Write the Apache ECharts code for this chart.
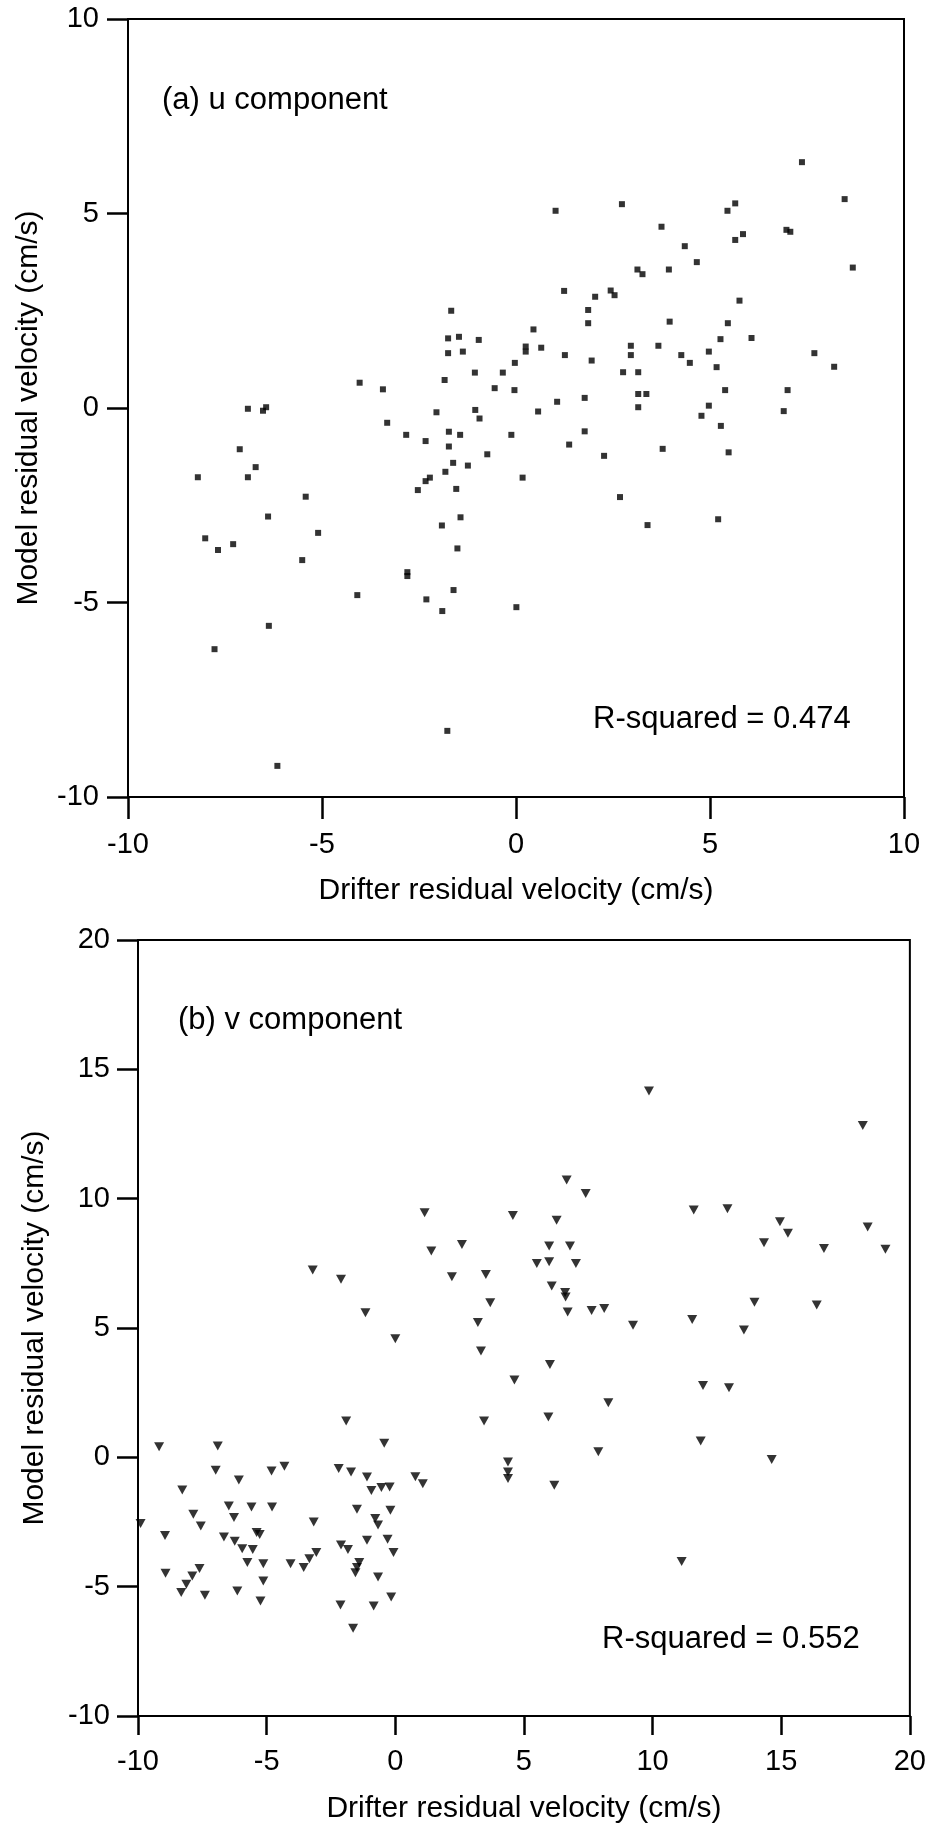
<!DOCTYPE html>
<html>
<head>
<meta charset="utf-8">
<script src="https://cdn.jsdelivr.net/npm/echarts@6/dist/echarts.min.js"></script>
<style>
  html, body { margin: 0; padding: 0; background: #fff; }
  #chart { width: 929px; height: 1831px; }
</style>
</head>
<body>
<div id="chart"></div>
<script>
// (a) u component: drifter vs model residual velocity (cm/s)
const uX = [-8.20, -8.01, -7.68, -7.77, -7.29, -7.12, -6.91, -6.91, -6.71, -6.52, -6.44, -6.39, -6.37, -6.15,
  -5.51, -5.42, -5.10, -4.09, -4.03, -3.43, -3.32, -2.83, -2.80, -2.80, -2.53, -2.33, -2.22, -2.33, -2.31,
  -2.05, -1.91, -1.90, -1.84, -1.82, -1.77, -1.75, -1.75, -1.73, -1.73, -1.67, -1.62, -1.61, -1.54, -1.51,
  -1.47, -1.44, -1.43, -1.37, -1.24, -1.06, -1.05, -0.96, -0.94, -0.74, -0.55, -0.34, -0.12, -0.03, -0.04,
  0.01, 0.17, 0.25, 0.25, 0.45, 0.57, 0.65, 1.02, 1.06, 1.24, 1.26, 1.37, 1.77, 1.77, 1.86, 1.86, 1.95,
  2.04, 2.27, 2.44, 2.54, 2.68, 2.73, 2.76, 2.96, 2.96, 3.13, 3.26, 3.15, 3.15, 3.36, 3.15, 3.39, 3.67,
  3.75, 3.78, 3.94, 3.96, 4.26, 4.35, 4.48, 4.66, 4.78, 4.97, 4.97, 5.17, 5.21, 5.27, 5.28, 5.39, 5.45,
  5.46, 5.48, 5.65, 5.65, 5.76, 5.85, 6.07, 6.90, 6.97, 7.00, 7.07, 7.37, 7.69, 8.20, 8.47, 8.68];
const uY = [-1.78, -3.35, -3.65, -6.20, -3.50, -1.06, -0.02, -1.78, -1.52, -0.07, 0.02, -2.79, -5.60, -9.20,
  -3.91, -2.28, -3.21, -4.81, 0.65, 0.48, -0.38, -0.69, -4.22, -4.32, -2.11, -1.88, -1.79, -0.85, -4.92,
  -0.11, -3.02, -5.22, 0.72, -1.64, -8.30, 1.79, 1.41, -0.61, -0.99, 2.50, -1.41, -4.68, -2.08, -3.61,
  1.83, -0.69, -2.81, 1.45, -1.48, 0.91, -0.05, 1.75, -0.27, -1.19, 0.51, 0.91, -0.69, 1.16, 0.46,
  -5.12, -1.79, 1.58, 1.45, 2.02, -0.09, 1.55, 5.07, 0.16, 3.01, 1.36, -0.94, 0.26, -0.60, 2.52, 2.18, 1.22,
  2.86, -1.23, 3.02, 2.90, -2.29, 5.24, 0.92, 1.60, 1.36, 3.56, 3.44, 0.92, 0.36, 0.36, 0.02, -3.01, 1.60,
  4.66, -1.05, 3.56, 2.22, 1.36, 4.16, 1.16, 3.75, -0.20, 0.06, 1.45, 1.05, -2.86, 1.77, -0.46, 0.46, 5.07,
  2.18, -1.14, 5.26, 4.32, 2.76, 4.47, 1.80, -0.08, 4.58, 0.46, 4.53, 6.32, 1.41, 1.06, 5.37, 3.61];

// (b) v component
const vX = [-9.90, -9.18, -8.95, -8.93, -8.32, -8.28, -8.12, -7.89, -7.85, -7.61, -7.56, -7.40, -6.98, -6.90,
  -6.66, -6.47, -6.27, -6.24, -6.14, -6.08, -5.95, -5.75, -5.59, -5.54, -5.39, -5.27, -5.24, -5.13, -5.13,
  -4.81, -4.79, -4.31, -4.07, -3.56, -3.34, -3.21, -3.17, -3.07, -2.20, -2.13, -2.11, -2.11, -1.91, -1.84,
  -1.72, -1.64, -1.55, -1.49, -1.49, -1.40, -1.16, -1.10, -1.10, -0.93, -0.84, -0.78, -0.67, -0.67, -0.54,
  -0.43, -0.30, -0.22, -0.19, -0.16, -0.07, 0.00, 0.78, 1.07, 1.14, 1.40, 2.20, 2.59, 3.21, 3.33, 3.45,
  3.52, 3.69, 4.38, 4.38, 4.38, 4.57, 4.63, 5.50, 5.95, 5.98, 5.98, 6.01, 6.08, 6.18, 6.27, 6.60, 6.62,
  6.66, 6.70, 6.79, 7.02, 7.40, 7.63, 7.89, 8.12, 8.28, 9.24, 9.86, 11.13, 11.54, 11.60, 11.87, 11.96,
  12.91, 12.97, 13.55, 13.96, 14.33, 14.63, 14.95, 15.26, 16.38, 16.66, 18.17, 18.36, 19.05];
const vY = [-2.56, 0.41, -3.02, -4.48, -5.23, -1.26, -4.91, -4.59, -2.20, -4.30, -2.65, -5.33, -0.50, 0.44,
  -3.08, -1.88, -2.33, -3.24, -5.17, -0.88, -3.53, -4.07, -1.92, -3.56, -2.91, -2.98, -5.55, -4.11, -4.78,
  -0.53, -1.92, -0.34, -4.11, -4.26, -3.92, 7.24, -2.50, -3.68, -0.43, -5.71, 6.88, -3.39, 1.40, -3.56,
  -0.57, -6.61, -4.46, -2.01, -4.26, -4.07, 5.59, -0.76, -3.21, -1.28, -5.75, -2.36, -2.62, -4.63, -1.17,
  0.54, -3.17, -1.15, -2.05, -5.40, -3.68, 4.58, -0.75, -1.02, 9.46, 7.98, 6.98, 8.23, 5.21, 4.11, 1.40,
  7.07, 5.98, -0.18, -0.57, -0.82, 9.35, 2.99, 7.49, 1.56, 8.17, 7.56, 3.59, 6.62, -1.08, 9.17, 6.37, 6.20,
  10.72, 5.62, 8.17, 7.49, 10.20, 5.68, 0.22, 5.75, 2.11, 5.11, 14.16, -4.03, 5.33, 9.56, 0.63, 2.78,
  9.61, 2.69, 4.92, 6.00, 8.30, -0.08, 9.11, 8.66, 5.89, 8.07, 12.83, 8.90, 8.04];

const uTicks = [-10, 10, 5];   // min, max, step
const vXTicks = [-10, 20, 5];
const vYTicks = [-10, 20, 5];

const FONT = 'Liberation Sans, Arial, Helvetica, sans-serif';
const xTitle = 'Drifter residual velocity (cm/s)';
const yTitle = 'Model residual velocity (cm/s)';

function pairs(xs, ys) {
  return xs.map((x, i) => [x, ys[i]]);
}

function xAxisCfg(grid, ticks, tickLen, margin, gap) {
  return {
    type: 'value', gridIndex: grid,
    min: ticks[0], max: ticks[1], interval: ticks[2],
    axisLine: { show: true, onZero: false, lineStyle: { color: '#000', width: 2 } },
    axisTick: { show: true, length: tickLen, lineStyle: { color: '#000', width: 2.5 } },
    axisLabel: { color: '#000', fontSize: 29, fontFamily: FONT, margin: margin },
    splitLine: { show: false },
    name: xTitle, nameLocation: 'middle', nameGap: gap,
    nameTextStyle: { color: '#000', fontSize: 30, fontFamily: FONT }
  };
}

function yAxisCfg(grid, ticks, margin, gap) {
  return {
    type: 'value', gridIndex: grid,
    min: ticks[0], max: ticks[1], interval: ticks[2],
    axisLine: { show: true, onZero: false, lineStyle: { color: '#000', width: 2 } },
    axisTick: { show: true, length: 21, lineStyle: { color: '#000', width: 2.5 } },
    axisLabel: { color: '#000', fontSize: 29, fontFamily: FONT, margin: margin },
    splitLine: { show: false },
    name: yTitle, nameLocation: 'middle', nameGap: gap, nameRotate: 90,
    nameTextStyle: { color: '#000', fontSize: 30, fontFamily: FONT }
  };
}

function note(text, x, y) {
  return {
    type: 'text', x: x, y: y,
    style: { text: text, fill: '#000', fontSize: 31, fontFamily: FONT, verticalAlign: 'middle' }
  };
}

const chart = echarts.init(document.getElementById('chart'));

chart.setOption({
  backgroundColor: '#fff',
  animation: false,
  grid: [
    { left: 128, top: 19, width: 776, height: 778, show: true, borderColor: '#000', borderWidth: 2 },
    { left: 138, top: 940, width: 773, height: 776, show: true, borderColor: '#000', borderWidth: 2 }
  ],
  xAxis: [
    xAxisCfg(0, uTicks, 22, 33, 79),
    xAxisCfg(1, vXTicks, 19, 31, 78)
  ],
  yAxis: [
    yAxisCfg(0, uTicks, 29, 84),
    yAxisCfg(1, vYTicks, 28, 88)
  ],
  series: [
    {
      type: 'scatter', xAxisIndex: 0, yAxisIndex: 0,
      data: pairs(uX, uY),
      symbol: 'rect', symbolSize: 6,
      itemStyle: { color: '#000' }
    },
    {
      type: 'scatter', xAxisIndex: 1, yAxisIndex: 1,
      data: pairs(vX, vY),
      symbol: 'triangle', symbolSize: [10, 9], symbolRotate: 180,
      itemStyle: { color: '#000' }
    }
  ],
  graphic: [
    note('(a) u component', 162, 100),
    note('R-squared = 0.474', 593, 719),
    note('(b) v component', 178, 1020),
    note('R-squared = 0.552', 602, 1639)
  ]
});
</script>
</body>
</html>
